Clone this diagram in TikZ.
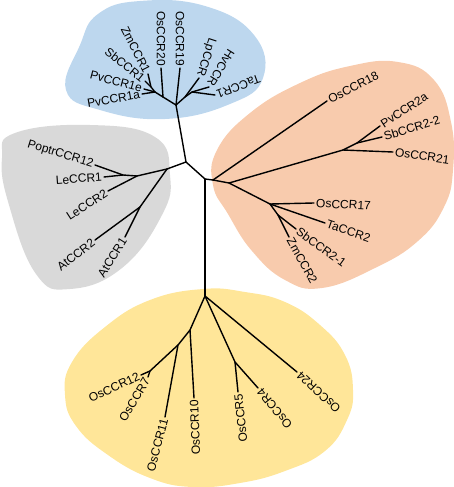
\documentclass[tikz,border=0pt]{standalone}
\usepackage{fontspec}
\setmainfont{Liberation Sans}
\definecolor{cladeblue}{HTML}{BDD7EE}
\definecolor{cladegray}{HTML}{D9D9D9}
\definecolor{cladeorange}{HTML}{F8CBAD}
\definecolor{cladeyellow}{HTML}{FFE699}
\begin{document}
\begin{tikzpicture}[
    x=1pt, y=-1pt,
    br/.style={line width=1.4pt, line cap=round, line join=round},
    leaf/.style={font=\fontsize{12}{14}\selectfont, inner sep=2pt},
    lin/.style={leaf, anchor=east},
    lout/.style={leaf, anchor=west},
    blob/.style={smooth cycle, tension=0.75},
]
\useasboundingbox (0,0) rectangle (454,487);
% clade backgrounds
\fill[cladeblue] plot[blob] coordinates {(80,45) (66,90) (100,110) (165,119) (230,104) (263,78) (254,35) (205,6) (140,1) (98,14)};
\fill[cladegray] plot[blob] coordinates {(15,133) (90,125) (155,137) (170,175) (162,215) (122,268) (70,289) (36,274) (9,205) (2,158)};
\fill[cladeorange] plot[blob] coordinates {(217,150) (250,113) (300,83) (350,66) (398,62) (434,80) (451,122) (453,170) (444,207) (418,241) (375,268) (322,288) (285,280) (252,251) (228,214) (213,185)};
\fill[cladeyellow] plot[blob] coordinates {(203,289) (150,300) (105,327) (72,362) (65,395) (76,426) (108,455) (150,478) (192,487) (240,483) (285,471) (325,451) (347,420) (353,390) (345,355) (320,325) (285,302) (245,292)};
% backbone
\coordinate (ctr) at (186,162);
\coordinate (ctrB) at (205,179);
\coordinate (tR) at (176,105);
\coordinate (gR) at (167,169);
\coordinate (oR) at (213,180);
\coordinate (yR) at (205,296);
\draw[br] (tR) -- (ctr) -- (gR);
\draw[br] (ctr) -- (ctrB) -- (oR);
\draw[br] (ctrB) -- (yR);
% blue clade
\coordinate (t1) at (163,97);
\coordinate (t2) at (155,92);
\coordinate (t3) at (151,87);
\coordinate (t4) at (185,97);
\coordinate (t5) at (192,92);
\coordinate (tOs20) at (161,68);
\coordinate (tOs19) at (180,68);
\coordinate (tZm1) at (148,74);
\coordinate (tSb1) at (145,81);
\coordinate (tPv1e) at (144,89);
\coordinate (tPv1a) at (142,94);
\coordinate (tLp) at (199,78);
\coordinate (tHv) at (209,87);
\coordinate (tTa1) at (215,95);
\draw[br] (tR) -- (t1) -- (tOs20);
\draw[br] (t1) -- (t2) -- (t3) -- (tZm1);
\draw[br] (t3) -- (tSb1);
\draw[br] (t2) -- (tPv1e);
\draw[br] (t2) -- (tPv1a);
\draw[br] (tR) -- (tOs19);
\draw[br] (tR) -- (t4) -- (tLp);
\draw[br] (t4) -- (t5) -- (tHv);
\draw[br] (t5) -- (tTa1);
\node[lin, rotate=-90] (lOs20) at (tOs20) {OsCCR20};
\node[lin, rotate=-90] (lOs19) at (tOs19) {OsCCR19};
\node[lin, rotate=-63] (lZm1) at (tZm1) {ZmCCR1};
\node[lin, rotate=-39] (lSb1) at (tSb1) {SbCCR1};
\node[lin, rotate=-15] (lPv1e) at (tPv1e) {PvCCR1e};
\node[lin, rotate=10] (lPv1a) at (tPv1a) {PvCCR1a};
\node[lin, rotate=252] (lLp) at (tLp) {LpCCR};
\node[lin, rotate=238] (lHv) at (tHv) {HvCCR};
\node[lin, rotate=200] (lTa1) at (tTa1) {TaCCR1};
% gray clade
\coordinate (g1) at (137,176);
\coordinate (g2) at (123,175);
\coordinate (g3) at (140,207);
\coordinate (tPop) at (95,165);
\coordinate (tLe1) at (104,177);
\coordinate (tLe2) at (108,191);
\coordinate (tAt2) at (95,240);
\coordinate (tAt1) at (125,237);
\draw[br] (gR) -- (g1) -- (g2) -- (tPop);
\draw[br] (g2) -- (tLe1);
\draw[br] (g1) -- (tLe2);
\draw[br] (gR) -- (g3) -- (tAt2);
\draw[br] (g3) -- (tAt1);
\node[lin, rotate=-17] (lPop) at (tPop) {PoptrCCR12};
\node[lin, rotate=4] (lLe1) at (tLe1) {LeCCR1};
\node[lin, rotate=33] (lLe2) at (tLe2) {LeCCR2};
\node[lin, rotate=38] (lAt2) at (tAt2) {AtCCR2};
\node[lin, rotate=58] (lAt1) at (tAt1) {AtCCR1};
% orange clade
\coordinate (o1) at (229,183);
\coordinate (o2) at (343,150);
\coordinate (o3) at (357,143);
\coordinate (o4) at (270,204);
\coordinate (o5) at (278,215);
\coordinate (tOs18) at (327,101);
\coordinate (tOs21) at (393,152);
\coordinate (tPv2a) at (380,126);
\coordinate (tSb22) at (382,137);
\coordinate (tOs17) at (314,203);
\coordinate (tTa2) at (325,223);
\coordinate (tSb21) at (296,229);
\coordinate (tZm2) at (289,237);
\draw[br] (oR) -- (tOs18);
\draw[br] (oR) -- (o1) -- (o2) -- (tOs21);
\draw[br] (o2) -- (o3) -- (tPv2a);
\draw[br] (o3) -- (tSb22);
\draw[br] (o1) -- (o4) -- (tOs17);
\draw[br] (o4) -- (tTa2);
\draw[br] (o4) -- (o5) -- (tSb21);
\draw[br] (o5) -- (tZm2);
\node[lout, rotate=27] (lOs18) at (tOs18) {OsCCR18};
\node[lout, rotate=33] (lPv2a) at (tPv2a) {PvCCR2a};
\node[lout, rotate=17] (lSb22) at (tSb22) {SbCCR2-2};
\node[lout, rotate=-8] (lOs21) at (tOs21) {OsCCR21};
\node[lout, rotate=-3] (lOs17) at (tOs17) {OsCCR17};
\node[lout, rotate=-19] (lTa2) at (tTa2) {TaCCR2};
\node[lout, rotate=-36] (lSb21) at (tSb21) {SbCCR2-1};
\node[lout, rotate=-61] (lZm2) at (tZm2) {ZmCCR2};
% yellow clade
\coordinate (y2) at (235,362);
\coordinate (y3) at (190,330);
\coordinate (y4) at (178,345);
\coordinate (y5) at (150,371);
\coordinate (tOs24) at (297,372);
\coordinate (tOs5) at (238,392);
\coordinate (tOs4) at (258,388);
\coordinate (tOs10) at (194,398);
\coordinate (tOs11) at (165,417);
\coordinate (tOs12) at (141,375);
\coordinate (tOs7) at (148,377);
\draw[br] (yR) -- (tOs24);
\draw[br] (yR) -- (y2) -- (tOs5);
\draw[br] (y2) -- (tOs4);
\draw[br] (yR) -- (y3) -- (tOs10);
\draw[br] (y3) -- (y4) -- (tOs11);
\draw[br] (y4) -- (y5) -- (tOs12);
\draw[br] (y5) -- (tOs7);
\node[lin, rotate=25] (lOs12) at (tOs12) {OsCCR12};
\node[lin, rotate=59] (lOs7) at (tOs7) {OsCCR7};
\node[lin, rotate=75] (lOs11) at (tOs11) {OsCCR11};
\node[lin, rotate=92] (lOs10) at (tOs10) {OsCCR10};
\node[lin, rotate=96] (lOs5) at (tOs5) {OsCCR5};
\node[lin, rotate=129] (lOs4) at (tOs4) {OsCCR4};
\node[lin, rotate=137] (lOs24) at (tOs24) {OsCCR24};
\end{tikzpicture}
\end{document}
